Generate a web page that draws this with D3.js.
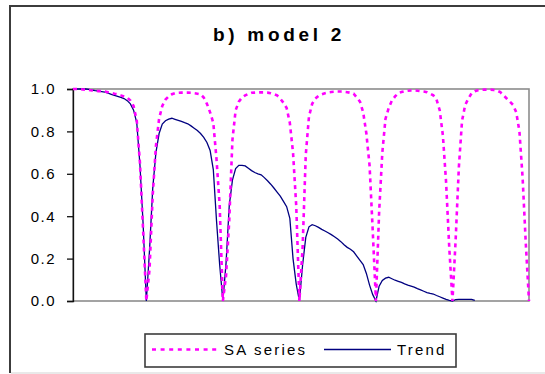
<!DOCTYPE html>
<html>
<head>
<meta charset="utf-8">
<script src="https://cdn.jsdelivr.net/npm/d3@7"></script>
<style>
  body { margin: 0; background: #fff; }
  svg { display: block; }
</style>
</head>
<body>
<div id="chart"></div>
<script>
// time index 1..144 (6 cycles of 24)
const saSeries = [
  1.0, 1.0, 0.999, 0.998, 0.997, 0.995, 0.993, 0.992, 0.99, 0.99, 0.988, 0.985,
  0.982, 0.978, 0.975, 0.97, 0.965, 0.96, 0.945, 0.92, 0.85, 0.65, 0.33, 0.0,
  0.15, 0.5, 0.73, 0.86, 0.92, 0.95, 0.965, 0.975, 0.98, 0.982, 0.983, 0.983,
  0.983, 0.982, 0.98, 0.978, 0.975, 0.96, 0.93, 0.89, 0.84, 0.67, 0.45, 0.0,
  0.12, 0.38, 0.76, 0.9, 0.94, 0.96, 0.97, 0.977, 0.982, 0.983, 0.984, 0.984,
  0.984, 0.983, 0.98, 0.976, 0.97, 0.955, 0.935, 0.91, 0.84, 0.7, 0.45, 0.0,
  0.25, 0.69, 0.87, 0.93, 0.955, 0.968, 0.975, 0.98, 0.984, 0.986, 0.987, 0.988,
  0.988, 0.987, 0.985, 0.982, 0.978, 0.96, 0.94, 0.89, 0.79, 0.64, 0.33, 0.0,
  0.42, 0.7, 0.86, 0.91, 0.945, 0.965, 0.98, 0.986, 0.99, 0.992, 0.993, 0.993,
  0.992, 0.99, 0.988, 0.985, 0.978, 0.97, 0.95, 0.9, 0.78, 0.56, 0.25, 0.0,
  0.29, 0.63, 0.85, 0.925, 0.955, 0.98, 0.99, 0.994, 0.996, 0.997, 0.997, 0.997,
  0.995, 0.992, 0.985, 0.97, 0.955, 0.94, 0.925, 0.89, 0.8, 0.58, 0.27, 0.0
];

const trendSeries = [
  1.0, 1.0, 1.0, 1.0, 1.0, 0.998, 0.995, 0.992, 0.99, 0.988, 0.985, 0.98,
  0.975, 0.97, 0.965, 0.96, 0.955, 0.945, 0.93, 0.9, 0.84, 0.64, 0.36, 0.0,
  0.24, 0.53, 0.7, 0.79, 0.835, 0.85, 0.858, 0.862, 0.857, 0.852, 0.847, 0.841,
  0.836, 0.826, 0.815, 0.804, 0.79, 0.772, 0.748, 0.71, 0.62, 0.38, 0.17, 0.0,
  0.18, 0.45, 0.57, 0.625, 0.64, 0.64, 0.637, 0.626, 0.615, 0.606, 0.6, 0.595,
  0.582, 0.567, 0.551, 0.533, 0.514, 0.495, 0.47, 0.445, 0.39, 0.2, 0.08, 0.0,
  0.17, 0.3, 0.35, 0.36, 0.355, 0.347, 0.338, 0.33, 0.322, 0.313, 0.303, 0.292,
  0.28, 0.265, 0.253, 0.244, 0.232, 0.212, 0.192, 0.172, 0.13, 0.075, 0.03, 0.0,
  0.07, 0.097, 0.108, 0.112, 0.105, 0.098, 0.093, 0.088, 0.081, 0.075, 0.07, 0.065,
  0.058, 0.052, 0.046, 0.04, 0.036, 0.033, 0.026, 0.02, 0.014, 0.008, 0.003, 0.0,
  0.007, 0.008, 0.008, 0.008, 0.008, 0.008, 0.003
];

const yTicks = [0, 0.2, 0.4, 0.6, 0.8, 1.0];
const seriesNames = ["SA series", "Trend"];
const titleText = "b) model 2";

const width = 545, height = 374;
const plot = {left: 73, right: 529, top: 89, bottom: 301};

const svg = d3.select("#chart").append("svg")
    .attr("width", width)
    .attr("height", height)
    .style("font-family", "Liberation Sans, Arial, sans-serif");

// outer chart frame
svg.append("line")
    .attr("x1", 10).attr("x2", width).attr("y1", 6).attr("y2", 6)
    .attr("stroke", "#3c3c3c").attr("stroke-width", 2);
svg.append("line")
    .attr("x1", 10).attr("x2", 10).attr("y1", 5).attr("y2", 373)
    .attr("stroke", "#3c3c3c").attr("stroke-width", 2);
svg.append("line")
    .attr("x1", 11).attr("x2", width).attr("y1", 373).attr("y2", 373)
    .attr("stroke", "#e2e2e2").attr("stroke-width", 1.5);

// title
svg.append("text")
    .attr("x", 213)
    .attr("y", 41)
    .style("font-size", "19px")
    .style("font-weight", "bold")
    .style("letter-spacing", "3.7px")
    .text(titleText);

const x = d3.scaleLinear()
    .domain([1, saSeries.length])
    .range([plot.left, plot.right]);

const y = d3.scaleLinear()
    .domain([0, 1])
    .range([plot.bottom, plot.top]);

// plot area border (gray)
svg.append("rect")
    .attr("x", plot.left)
    .attr("y", plot.top)
    .attr("width", plot.right - plot.left)
    .attr("height", plot.bottom - plot.top)
    .attr("fill", "none")
    .attr("stroke", "#8c8c8c")
    .attr("stroke-width", 1.6);

// y axis
const yAxis = d3.axisLeft(y)
    .tickValues(yTicks)
    .tickFormat(d3.format(".1f"))
    .tickSize(6)
    .tickPadding(11);

svg.append("g")
    .attr("transform", "translate(" + plot.left + ",0)")
    .call(yAxis)
    .call(g => g.select(".domain").attr("stroke", "#111").attr("stroke-width", 1.3))
    .call(g => g.selectAll(".tick line").attr("stroke", "#111").attr("stroke-width", 1.3))
    .call(g => g.selectAll(".tick text")
        .attr("fill", "#000")
        .style("font-size", "15px")
        .style("letter-spacing", "1.5px")
        .style("font-family", "Liberation Sans, Arial, sans-serif"));

// lines
const line = d3.line()
    .x((d, i) => x(i + 1))
    .y(d => y(d));

svg.append("path")
    .datum(trendSeries)
    .attr("fill", "none")
    .attr("stroke", "#000080")
    .attr("stroke-width", 1.3)
    .attr("d", line);

svg.append("path")
    .datum(saSeries)
    .attr("fill", "none")
    .attr("stroke", "#ff00ff")
    .attr("stroke-width", 2.6)
    .attr("stroke-dasharray", "4,4")
    .attr("d", line);

// legend
const legend = svg.append("g");
legend.append("rect")
    .attr("x", 145).attr("y", 334)
    .attr("width", 311).attr("height", 33)
    .attr("fill", "#fff")
    .attr("stroke", "#3c3c3c")
    .attr("stroke-width", 1.6);

legend.append("line")
    .attr("x1", 152).attr("x2", 220).attr("y1", 349.5).attr("y2", 349.5)
    .attr("stroke", "#ff00ff").attr("stroke-width", 2.6)
    .attr("stroke-dasharray", "4,4.6");
legend.append("text")
    .attr("x", 224).attr("y", 355)
    .style("font-size", "15px")
    .style("letter-spacing", "2.2px")
    .text(seriesNames[0]);

legend.append("line")
    .attr("x1", 324).attr("x2", 391).attr("y1", 349.5).attr("y2", 349.5)
    .attr("stroke", "#000080").attr("stroke-width", 1.3);
legend.append("text")
    .attr("x", 397).attr("y", 355)
    .style("font-size", "15px")
    .style("letter-spacing", "2.2px")
    .text(seriesNames[1]);
</script>
</body>
</html>
